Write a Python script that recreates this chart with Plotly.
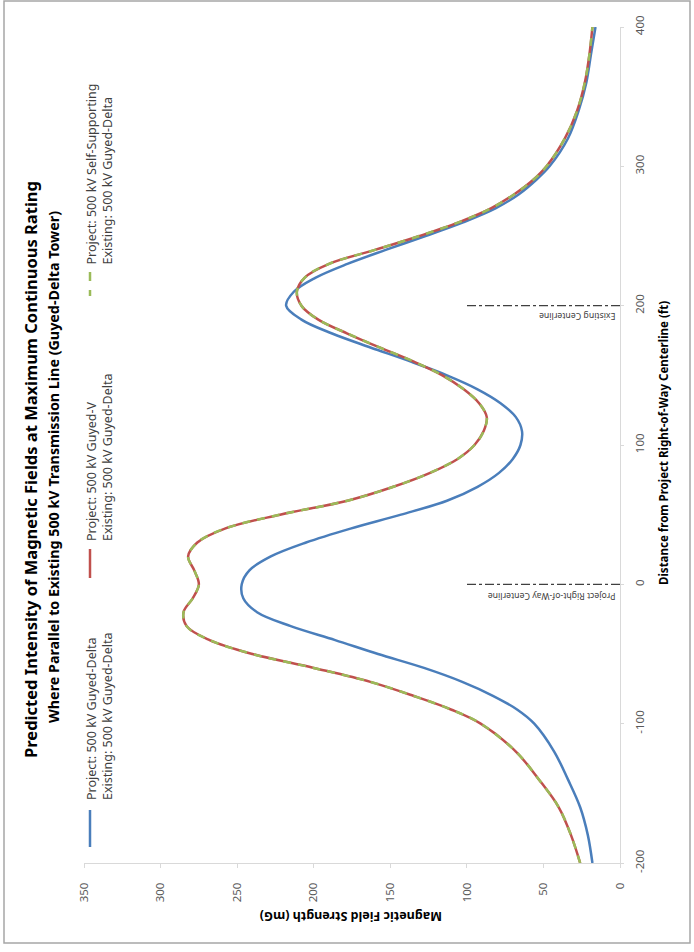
import plotly.graph_objects as go

# Distance from project right-of-way centerline (ft)
distance_ft = [-200, -180, -160, -140, -120, -100, -90, -80, -70, -60, -50, -40, -30, -20, -10,
               0, 10, 20, 30, 40, 50, 60, 70, 80, 90, 100, 110, 120, 130, 140, 150, 160, 170,
               180, 190, 200, 210, 220, 230, 240, 250, 260, 270, 280, 290, 300, 320, 340, 360,
               380, 400]

# Magnetic field (mG), project 500 kV Guyed-Delta beside existing Guyed-Delta
field_guyed_delta = [18, 21, 26, 34, 43, 56, 67, 83, 103, 128, 158, 186, 215, 237, 246,
                     247, 242, 228, 205, 176, 143, 113, 93, 79, 70, 65, 64, 68, 78, 93, 113, 137, 163,
                     188, 208, 218, 213, 199, 178, 153, 127, 102, 81, 66, 55, 46, 34, 27, 22,
                     19, 16]

# Project 500 kV Guyed-V beside existing Guyed-Delta
field_guyed_v = [26, 32, 40, 53, 68, 91, 110, 135, 163, 200, 240, 268, 283, 285, 279,
                 275, 278, 282, 276, 258, 222, 178, 148, 124, 106, 95, 89, 87, 92, 102, 116, 135, 157,
                 178, 197, 208, 211, 206, 190, 160, 131, 105, 84, 69, 57, 48, 36, 28, 23,
                 20, 18]

# Project 500 kV Self-Supporting beside existing Guyed-Delta
field_self_supporting = list(field_guyed_v)

series_names = [
    "Project: 500 kV Guyed-Delta<br>Existing: 500 kV Guyed-Delta",
    "Project: 500 kV Guyed-V<br>Existing: 500 kV Guyed-Delta",
    "Project: 500 kV Self-Supporting<br>Existing: 500 kV Guyed-Delta",
]

chart_title = "Predicted Intensity of Magnetic Fields at Maximum Continuous Rating"
chart_subtitle = "Where Parallel to Existing 500 kV Transmission Line (Guyed-Delta Tower)"

field_ticks = [0, 50, 100, 150, 200, 250, 300, 350]
distance_ticks = [-200, -100, 0, 100, 200, 300, 400]
distance_tick_text = ["-200", "-100", "0", "100", "200", "300", "400"]

centerline_ft = [0, 200]
centerline_reach_mg = [100, 100]
centerline_labels = ["Project Right-of-Way Centerline", "Existing Centerline"]

BLUE = "#4A7EBB"
RED = "#C0504D"
GREEN = "#9BBB59"
FONT = "Noto Sans"

W, H = 694, 952
L, R, T, B = 84, 620, 27, 863  # plot-area pixel bounds


def fx(px):
    return (px - L) / (R - L)


def fy(py):
    return (B - py) / (B - T)


fig = go.Figure()

line_common = dict(width=2.5, shape="spline", smoothing=1.0)
fig.add_trace(go.Scatter(x=field_guyed_delta, y=distance_ft, mode="lines",
                         line=dict(color=BLUE, **line_common), showlegend=False))
fig.add_trace(go.Scatter(x=field_guyed_v, y=distance_ft, mode="lines",
                         line=dict(color=RED, **line_common), showlegend=False))
fig.add_trace(go.Scatter(x=field_self_supporting, y=distance_ft, mode="lines",
                         line=dict(color=GREEN, dash="8px,7px", **line_common),
                         showlegend=False))

shapes = []
annotations = []

# centerline markers
for d, reach, lab in zip(centerline_ft, centerline_reach_mg, centerline_labels):
    shapes.append(dict(type="line", xref="x", yref="y", x0=0, x1=reach, y0=d, y1=d,
                       line=dict(color="#404040", width=1.3, dash="dashdot")))
    annotations.append(dict(x=1.5, y=d, xref="x", yref="y", text=lab, showarrow=False,
                            textangle=180, xanchor="right", yanchor="top", yshift=-3,
                            font=dict(family=FONT, size=8.7, color="#404040")))

# outer chart border
shapes.append(dict(type="rect", xref="paper", yref="paper",
                   x0=fx(4), x1=fx(690), y0=fy(943), y1=fy(1),
                   line=dict(color="#a6a6a6", width=1.5)))

# title and subtitle
annotations.append(dict(x=fx(31), y=fy(470), xref="paper", yref="paper",
                        text="<b>" + chart_title + "</b>",
                        showarrow=False, textangle=-90, xanchor="center", yanchor="middle",
                        font=dict(family=FONT, size=16.5, color="#000000")))
annotations.append(dict(x=fx(53), y=fy(467), xref="paper", yref="paper",
                        text="<b>" + chart_subtitle + "</b>",
                        showarrow=False, textangle=-90, xanchor="center", yanchor="middle",
                        font=dict(family=FONT, size=14.3, color="#000000")))

# axis titles
annotations.append(dict(x=fx(663), y=fy(443), xref="paper", yref="paper",
                        text="<b>Distance from Project Right-of-Way Centerline (ft)</b>",
                        showarrow=False, textangle=-90, xanchor="center", yanchor="middle",
                        font=dict(family=FONT, size=11.5, color="#000000")))
annotations.append(dict(x=fx(351), y=fy(917), xref="paper", yref="paper",
                        text="<b>Magnetic Field Strength (mG)</b>",
                        showarrow=False, textangle=180, xanchor="center", yanchor="middle",
                        font=dict(family=FONT, size=12.5, color="#000000")))

# legend built from rotated samples and labels
legend_rows = [
    (BLUE, "solid", 810, 847, 802),
    (RED, "solid", 549, 578, 543),
    (GREEN, "dash", 272, 296, 267),
]
for (col, dash, s0, s1, tb), name in zip(legend_rows, series_names):
    shapes.append(dict(type="line", xref="paper", yref="paper",
                       x0=fx(90), x1=fx(90), y0=fy(s0), y1=fy(s1),
                       line=dict(color=col, width=2.5, dash=dash)))
    annotations.append(dict(x=fx(99), y=fy(tb), xref="paper", yref="paper", text=name,
                            showarrow=False, textangle=-90, xanchor="center", yanchor="bottom",
                            align="left",
                            font=dict(family=FONT, size=12.5, color="#404040")))

fig.update_layout(
    width=W, height=H, autosize=False,
    margin=dict(l=L, r=W - R, t=T, b=H - B, pad=0),
    paper_bgcolor="#ffffff", plot_bgcolor="#ffffff",
    shapes=shapes, annotations=annotations,
    showlegend=False,
    xaxis=dict(range=[350, 0], tickvals=field_ticks, tickangle=-90,
               showgrid=False, zeroline=False, showline=True, linecolor="#d9d9d9", linewidth=1,
               ticks="outside", ticklen=4, tickcolor="#d9d9d9", ticklabelstandoff=10,
               tickfont=dict(family=FONT, size=11.5, color="#595959")),
    yaxis=dict(range=[-200, 400], tickvals=distance_ticks, ticktext=distance_tick_text,
               side="right", tickangle=-90,
               showgrid=False, zeroline=False, showline=True, linecolor="#d9d9d9", linewidth=1,
               ticks="outside", ticklen=3, tickcolor="#d9d9d9", ticklabelstandoff=6,
               tickfont=dict(family=FONT, size=11.5, color="#595959")),
)

fig.write_html("out.html")
